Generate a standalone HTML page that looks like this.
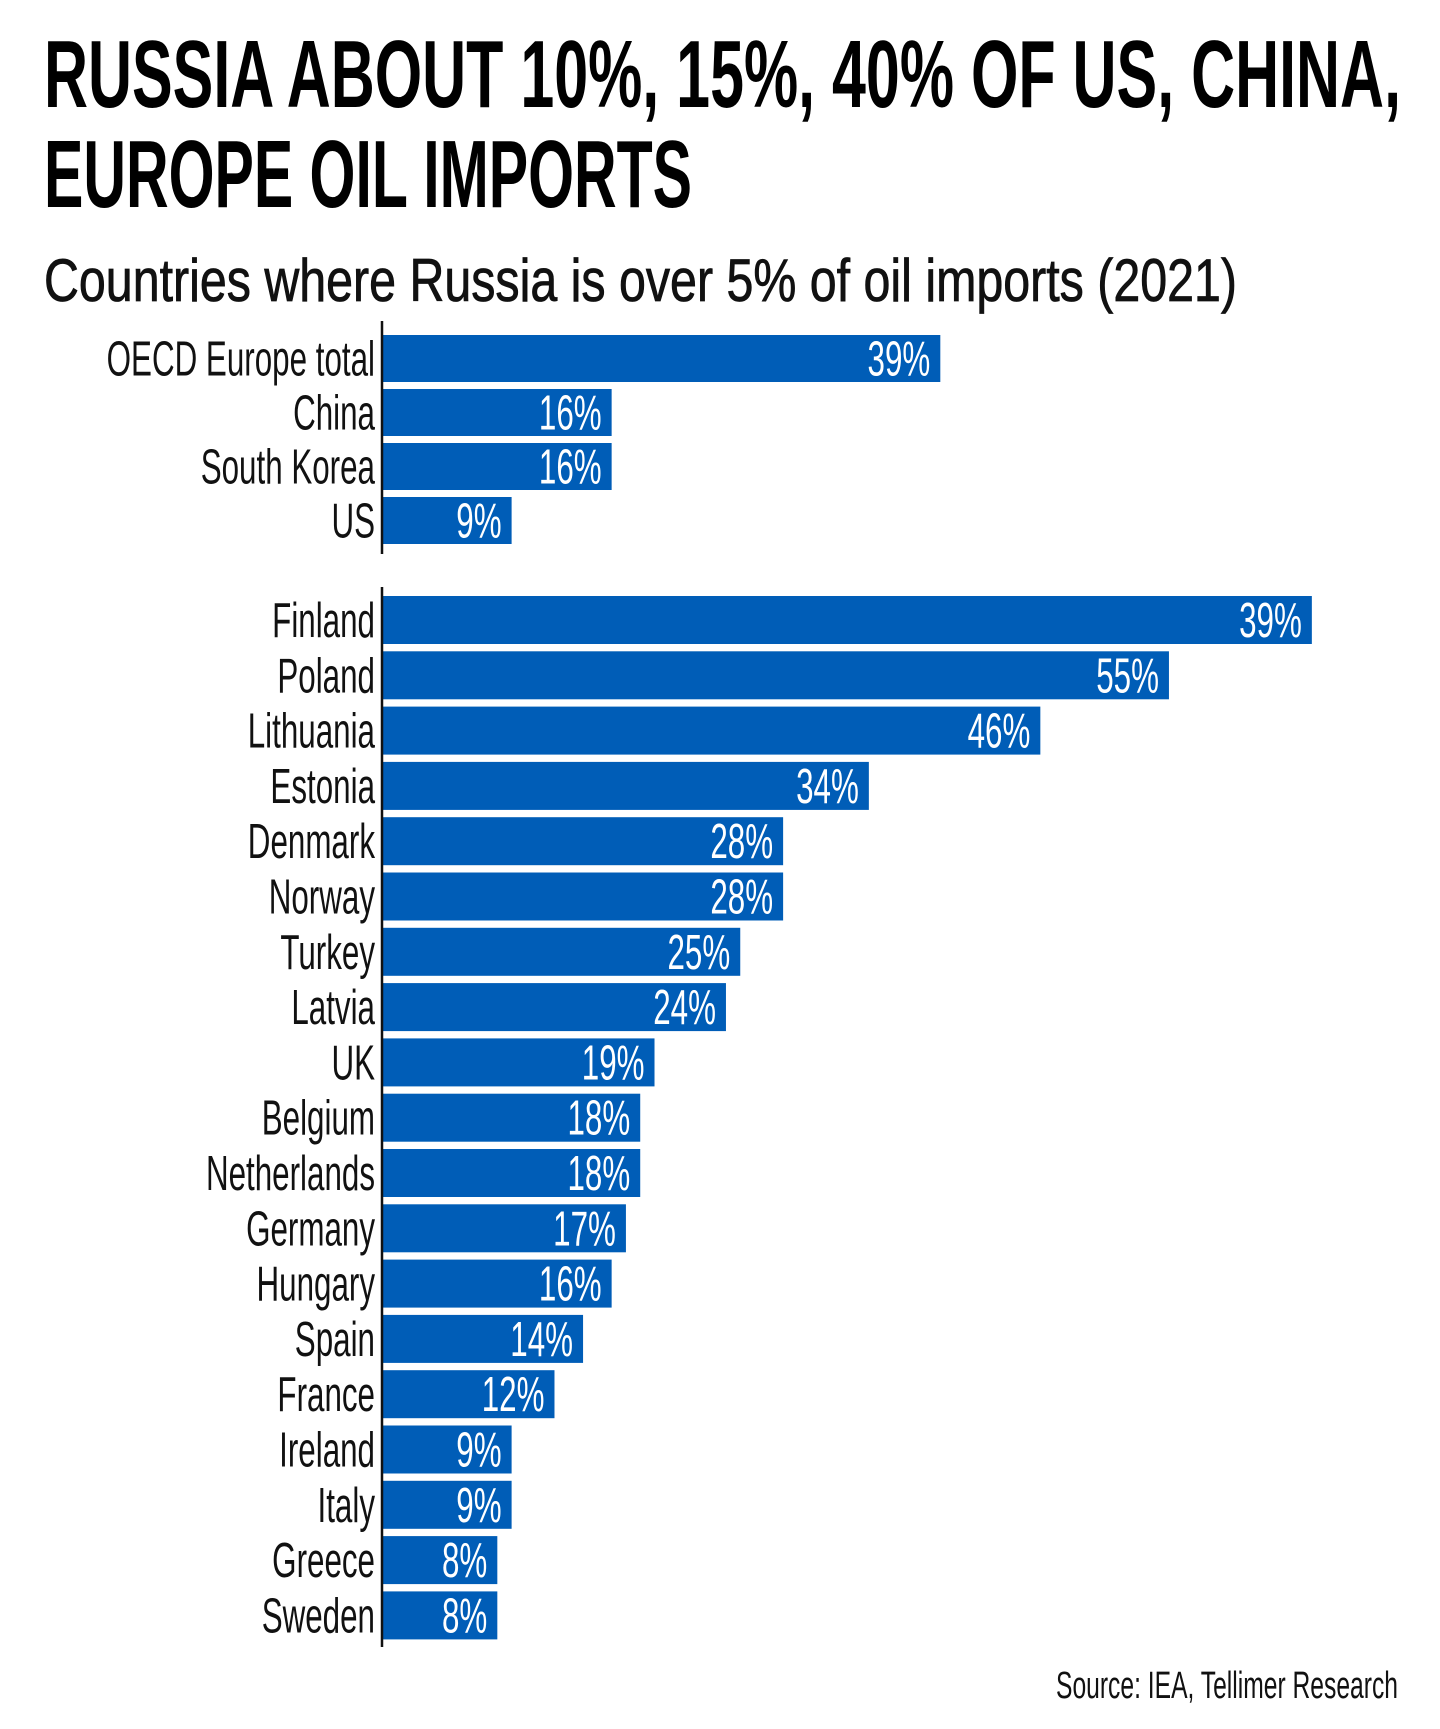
<!DOCTYPE html>
<html><head><meta charset="utf-8">
<style>
html,body{margin:0;padding:0;background:#fff;}
svg{display:block;}
text{font-family:"Liberation Sans",sans-serif;}
</style></head>
<body>
<svg id="chart" width="1440" height="1729" viewBox="0 0 1440 1729" xmlns="http://www.w3.org/2000/svg">
  <text x="44" y="107" font-size="96" font-weight="bold" textLength="1357" lengthAdjust="spacingAndGlyphs">RUSSIA ABOUT 10%, 15%, 40% OF US, CHINA,</text>
  <text x="44" y="207" font-size="96" font-weight="bold" textLength="648" lengthAdjust="spacingAndGlyphs">EUROPE OIL IMPORTS</text>
  <text x="44" y="301" font-size="60" fill="#111" stroke="#111" stroke-width="0.8" textLength="1193" lengthAdjust="spacingAndGlyphs">Countries where Russia is over 5% of oil imports (2021)</text>
  <g id="bars"></g>
  <text x="1056" y="1698" font-size="38" fill="#111" textLength="342" lengthAdjust="spacingAndGlyphs">Source: IEA, Tellimer Research</text>
</svg>
<script>
const groupACategories = ["OECD Europe total","China","South Korea","US"];
const groupAValues = [39,16,16,9];
const groupALabels = ["39%","16%","16%","9%"];
const groupBCategories = ["Finland","Poland","Lithuania","Estonia","Denmark","Norway","Turkey","Latvia","UK","Belgium","Netherlands","Germany","Hungary","Spain","France","Ireland","Italy","Greece","Sweden"];
const groupBValues = [65,55,46,34,28,28,25,24,19,18,18,17,16,14,12,9,9,8,8];
const groupBLabels = ["39%","55%","46%","34%","28%","28%","25%","24%","19%","18%","18%","17%","16%","14%","12%","9%","9%","8%","8%"];

const NS = "http://www.w3.org/2000/svg";
const layer = document.getElementById("bars");
const x0 = 383;
const pxPerPct = 14.29;
function xScale(v){ return x0 + v * pxPerPct; }

function drawGroup(cats, vals, labels, top, step, h, axisTop, axisBottom, gname){
  const g = document.createElementNS(NS,"g");
  
  
  layer.appendChild(g);
  cats.forEach((c,i)=>{
    const y = top + i*step;
    const r = document.createElementNS(NS,"rect");
    
    
    r.setAttribute("x", x0);
    r.setAttribute("y", y);
    r.setAttribute("width", xScale(vals[i]) - x0);
    r.setAttribute("height", h);
    r.setAttribute("fill", "#005DB7");
    g.appendChild(r);
    const cy = y + h/2 + 17;
    const lg = document.createElementNS(NS,"g");
    lg.setAttribute("transform", "translate(" + (x0-8) + "," + cy + ") scale(0.64,1)");
    const t = document.createElementNS(NS,"text");
    
    
    t.setAttribute("text-anchor","end");
    t.setAttribute("font-size","49");
    t.setAttribute("fill","#111");
    t.textContent = c;
    lg.appendChild(t);
    g.appendChild(lg);
    const vg = document.createElementNS(NS,"g");
    vg.setAttribute("transform", "translate(" + (xScale(vals[i])-10) + "," + cy + ") scale(0.64,1)");
    const vt = document.createElementNS(NS,"text");
    
    
    vt.setAttribute("text-anchor","end");
    vt.setAttribute("font-size","49");
    vt.setAttribute("fill","#fff");
    vt.textContent = labels[i];
    vg.appendChild(vt);
    g.appendChild(vg);
  });
  const ax = document.createElementNS(NS,"line");
  
  
  ax.setAttribute("x1", x0-1); ax.setAttribute("x2", x0-1);
  ax.setAttribute("y1", axisTop); ax.setAttribute("y2", axisBottom);
  ax.setAttribute("stroke","#111"); ax.setAttribute("stroke-width","2.5");
  g.appendChild(ax);
}
drawGroup(groupACategories, groupAValues, groupALabels, 335, 54, 47, 321, 554, "group-major-importers");
drawGroup(groupBCategories, groupBValues, groupBLabels, 596, 55.3, 48, 587, 1647, "group-european-countries");
</script>
</body></html>
